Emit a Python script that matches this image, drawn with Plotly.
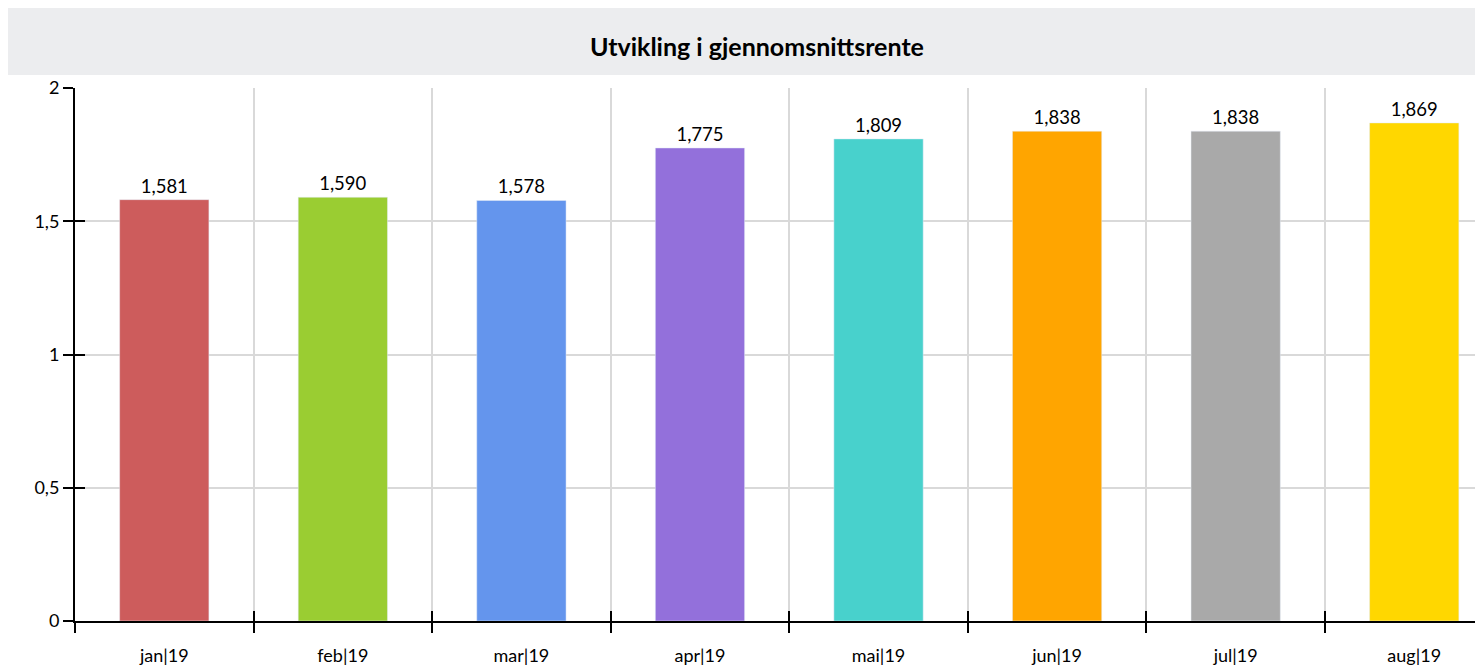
import plotly.graph_objects as go

months = ["jan|19", "feb|19", "mar|19", "apr|19", "mai|19", "jun|19", "jul|19", "aug|19"]
rente = [1.581, 1.590, 1.578, 1.775, 1.809, 1.838, 1.838, 1.869]
colors = ["#CD5C5C", "#9ACD32", "#6495ED", "#9370DB", "#48D1CC", "#FFA500", "#A9A9A9", "#FFD700"]
y_ticks = [0, 0.5, 1, 1.5, 2]
title = "Utvikling i gjennomsnittsrente"

font = "Lato, 'Open Sans', sans-serif"

fig = go.Figure()
fig.add_trace(go.Bar(
    x=months, y=rente, marker_color=colors, width=0.5,
    texttemplate="%{y:.3f}", textposition="outside",
    textfont=dict(size=18.5, color="black"), cliponaxis=False,
    showlegend=False,
))
# dummy trace so the overlay axes draw the inner half of the crossing ticks
fig.add_trace(go.Scatter(x=months, y=[None] * len(months), xaxis="x2", yaxis="y2",
                         showlegend=False, hoverinfo="skip"))

fig.add_shape(type="rect", xref="paper", yref="paper",
              x0=-0.0473, x1=1.0, y0=1.0244, y1=1.150,
              fillcolor="#ECEDEF", line_width=0, layer="below")

fig.update_layout(
    width=1483, height=659,
    margin=dict(l=67, r=0, t=80, b=46),
    plot_bgcolor="white", paper_bgcolor="white",
    separators=",.",
    font=dict(family=font, size=18, color="black"),
    title=dict(text="<b>" + title + "</b>", x=0.505, xanchor="center",
               y=0.941, yanchor="middle", font=dict(size=25, family=font)),
    bargap=0.5,
    xaxis=dict(
        type="category", range=[-0.5, 7.43],
        tickson="boundaries", ticks="outside", ticklen=10, tickwidth=2,
        tickcolor="black", showline=True, linecolor="black", linewidth=2,
        showgrid=True, gridcolor="#D9D9D9", gridwidth=2,
        ticklabelstandoff=17, tickfont=dict(size=18),
    ),
    xaxis2=dict(
        type="category", overlaying="x", matches="x", side="bottom",
        tickson="boundaries", ticks="inside", ticklen=10, tickwidth=2,
        tickcolor="black", showticklabels=False, showgrid=False, showline=False,
    ),
    yaxis=dict(
        range=[0, 2], tickvals=y_ticks,
        ticks="outside", ticklen=10, tickwidth=1.5, tickcolor="black",
        showline=True, linecolor="black", linewidth=2,
        showgrid=True, gridcolor="#D9D9D9", gridwidth=1.5,
        zeroline=False, tickfont=dict(size=18),
    ),
    yaxis2=dict(
        overlaying="y", matches="y", side="left", tickvals=y_ticks,
        ticks="inside", ticklen=10, tickwidth=1.5, tickcolor="black",
        showticklabels=False, showgrid=False, showline=False, zeroline=False,
    ),
)

fig.write_html("out.html")
